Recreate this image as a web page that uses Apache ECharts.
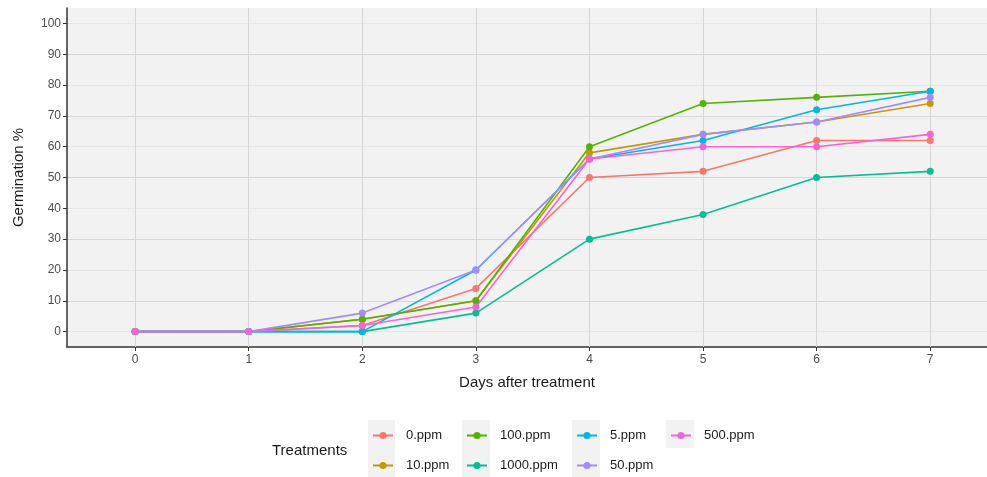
<!DOCTYPE html>
<html>
<head>
<meta charset="utf-8">
<script src="https://cdn.jsdelivr.net/npm/echarts@6/dist/echarts.min.js"></script>
<style>html,body{margin:0;padding:0;background:#fff;}#c{width:987px;height:477px;}</style>
</head>
<body>
<div id="c"></div>
<script>
const days = [0, 1, 2, 3, 4, 5, 6, 7];
const dayTicks = [0, 1, 2, 3, 4, 5, 6, 7];
const yTicks = [0, 10, 20, 30, 40, 50, 60, 70, 80, 90, 100];
const treatments = ['0.ppm', '10.ppm', '100.ppm', '1000.ppm', '5.ppm', '50.ppm', '500.ppm'];
const colors = ['#F8766D', '#C49A00', '#53B400', '#00C094', '#00B6EB', '#A58AFF', '#FB61D7'];
const p0 = [0, 0, 2, 14, 50, 52, 62, 62];
const p10 = [0, 0, 4, 10, 58, 64, 68, 74];
const p100 = [0, 0, 4, 10, 60, 74, 76, 78];
const p1000 = [0, 0, 0, 6, 30, 38, 50, 52];
const p5 = [0, 0, 0, 20, 56, 62, 72, 78];
const p50 = [0, 0, 6, 20, 56, 64, 68, 76];
const p500 = [0, 0, 2, 8, 56, 60, 60, 64];
const values = [p0, p10, p100, p1000, p5, p50, p500];

const chart = echarts.init(document.getElementById('c'), null, {renderer: 'canvas'});
const font = 'Liberation Sans, Arial, sans-serif';

const series = treatments.map((name, i) => ({
  name: name,
  type: 'line',
  data: days.map((d, j) => [d, values[i][j]]),
  symbol: 'circle',
  symbolSize: 7,
  lineStyle: {width: 1.6, color: colors[i]},
  itemStyle: {color: colors[i]},
  emphasis: {disabled: true},
  z: 3,
  animation: false
}));

// vertical grid lines at the day ticks
series.unshift({
  name: '__grid',
  type: 'line',
  data: [],
  z: 1,
  silent: true,
  markLine: {
    z: 1,
    silent: true,
    symbol: ['none', 'none'],
    animation: false,
    label: {show: false},
    lineStyle: {color: '#D6D6D6', type: 'solid', width: 1},
    emphasis: {disabled: true},
    data: dayTicks.map(d => ({xAxis: d}))
  }
});

const legendCols = [[0, 1], [2, 3], [4, 5], [6]];
const legendLefts = [372, 466, 576, 670];
const legends = legendCols.map((idx, k) => ({
  orient: 'vertical',
  left: legendLefts[k],
  top: 429,
  padding: 0,
  itemWidth: 20,
  itemHeight: 9,
  itemGap: 17,
  data: idx.map(i => treatments[i]),
  textStyle: {fontFamily: font, fontSize: 13, color: '#1a1a1a', padding: [0, 0, 0, 8]},
  selectedMode: false
}));

const keyBg = [[368, 420, 27, 57], [462, 420, 28, 57], [572, 420, 28, 57], [666, 420, 28, 28]];

chart.setOption({
  animation: false,
  backgroundColor: '#ffffff',
  color: colors,
  grid: {left: 67, top: 8, right: 0, bottom: 130, show: true, backgroundColor: '#F2F2F2', borderWidth: 0, containLabel: false},
  xAxis: {
    type: 'value', min: -0.6, max: 7.5,
    name: 'Days after treatment', nameLocation: 'middle', nameGap: 28,
    nameTextStyle: {fontFamily: font, fontSize: 15, color: '#1a1a1a'},
    axisLine: {show: true, onZero: false, lineStyle: {color: '#333333', width: 1.5}},
    axisTick: {show: true, customValues: dayTicks, length: 4, lineStyle: {color: '#333333'}},
    axisLabel: {customValues: dayTicks, fontFamily: font, fontSize: 12, color: '#4D4D4D', margin: 7},
    splitLine: {show: false}
  },
  yAxis: {
    type: 'value', min: -5, max: 105, interval: 5,
    name: 'Germination %', nameLocation: 'middle', nameGap: 41,
    nameTextStyle: {fontFamily: font, fontSize: 15, color: '#1a1a1a'},
    axisLine: {show: true, onZero: false, lineStyle: {color: '#333333', width: 1.5}},
    axisTick: {show: true, customValues: yTicks, length: 4, lineStyle: {color: '#333333'}},
    axisLabel: {customValues: yTicks, fontFamily: font, fontSize: 12, color: '#4D4D4D', margin: 6},
    splitLine: {show: true, lineStyle: {color: ['#E6E6E6', '#D6D6D6'], width: 1}}
  },
  legend: legends,
  graphic: [
    {type: 'text', left: 272, top: 443, style: {text: 'Treatments', fontFamily: font, fontSize: 15, fill: '#1a1a1a'}}
  ].concat(keyBg.map(r => ({type: 'rect', shape: {x: r[0], y: r[1], width: r[2], height: r[3]}, style: {fill: '#F2F2F2'}, z: -1, silent: true}))),
  series: series
});
</script>
</body>
</html>
